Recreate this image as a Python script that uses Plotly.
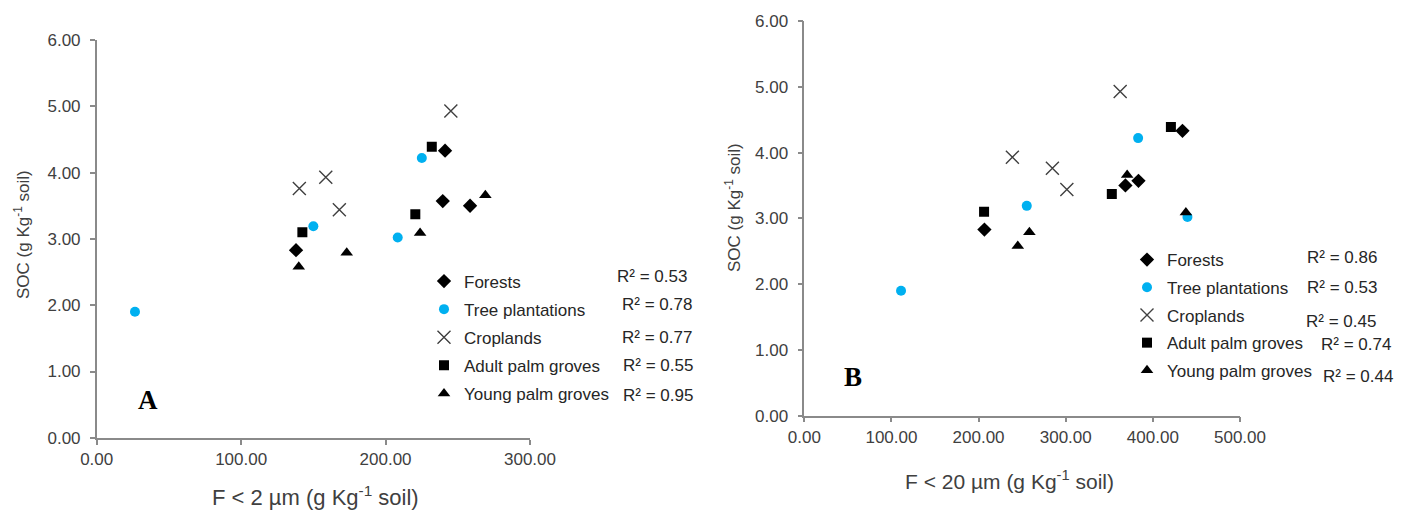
import plotly.graph_objects as go

W, H = 1409, 510
OFF = 8  # page margin of the html body
FW, FH = W - OFF, H - OFF

# ---------------- data ----------------
series_names = ["Forests", "Tree plantations", "Croplands", "Adult palm groves", "Young palm groves"]

# Panel A : F < 2 µm
a_forest_x = [241.2, 138.0, 239.6, 258.5]
a_forest_y = [4.33, 2.83, 3.57, 3.50]
a_tree_x = [26.5, 150.0, 208.4, 225.1]
a_tree_y = [1.90, 3.19, 3.02, 4.22]
a_crop_x = [245.2, 140.3, 158.6, 168.0]
a_crop_y = [4.93, 3.76, 3.93, 3.44]
a_adult_x = [232.0, 142.4, 220.6]
a_adult_y = [4.39, 3.10, 3.37]
a_young_x = [139.9, 173.1, 223.9, 269.1]
a_young_y = [2.58, 2.79, 3.09, 3.66]
a_r2 = ["0.53", "0.78", "0.77", "0.55", "0.95"]

# Panel B : F < 20 µm
b_forest_x = [206.7, 368.5, 383.5, 434.0]
b_forest_y = [2.83, 3.50, 3.57, 4.33]
b_tree_x = [111.0, 255.3, 383.1, 439.7]
b_tree_y = [1.90, 3.19, 4.22, 3.02]
b_crop_x = [238.8, 284.7, 301.3, 362.5]
b_crop_y = [3.93, 3.76, 3.44, 4.93]
b_adult_x = [206.3, 352.9, 420.7]
b_adult_y = [3.10, 3.37, 4.39]
b_young_x = [245.0, 258.3, 370.5, 437.9]
b_young_y = [2.58, 2.79, 3.66, 3.09]
b_r2 = ["0.86", "0.53", "0.45", "0.74", "0.44"]

x_ticks_a = [0, 100, 200, 300]
x_ticks_b = [0, 100, 200, 300, 400, 500]
y_ticks = [0, 1, 2, 3, 4, 5, 6]

# ---------------- styles ----------------
FONT = "Liberation Sans, Arial, sans-serif"
TXT = "#404040"
AX = "#8a8a8a"
BLUE = "#00B0F0"
styles = [
    dict(symbol="diamond", size=11, color="black"),
    dict(symbol="circle", size=10, color=BLUE),
    dict(symbol="x-thin-open", size=13, color="#404040", line=dict(width=1.4, color="#404040")),
    dict(symbol="square", size=10, color="black"),
    dict(symbol="triangle-up", size=11, color="black"),
]


def px(x):
    return (x - OFF) / FW


def py(y):
    return 1 - (y - OFF) / FH


fig = go.Figure()

a_data = [(a_forest_x, a_forest_y), (a_tree_x, a_tree_y), (a_crop_x, a_crop_y),
          (a_adult_x, a_adult_y), (a_young_x, a_young_y)]
b_data = [(b_forest_x, b_forest_y), (b_tree_x, b_tree_y), (b_crop_x, b_crop_y),
          (b_adult_x, b_adult_y), (b_young_x, b_young_y)]

for i, (name, (xs, ys)) in enumerate(zip(series_names, a_data)):
    fig.add_trace(go.Scatter(x=xs, y=ys, mode="markers", name=name, marker=styles[i],
                             xaxis="x", yaxis="y", legend="legend", legendgroup="a%d" % i))
for i, (name, (xs, ys)) in enumerate(zip(series_names, b_data)):
    fig.add_trace(go.Scatter(x=xs, y=ys, mode="markers", name=name, marker=styles[i],
                             xaxis="x2", yaxis="y2", legend="legend2", legendgroup="b%d" % i))

axis_common = dict(showline=True, linecolor=AX, linewidth=1.5, ticks="outside", ticklen=5,
                   tickcolor=AX, tickwidth=1.5, showgrid=False, zeroline=False, automargin=False,
                   tickfont=dict(family=FONT, size=17, color=TXT), tickformat=".2f")

fig.update_layout(
    width=FW, height=FH,
    margin=dict(l=0, r=0, t=0, b=0, autoexpand=False),
    paper_bgcolor="white", plot_bgcolor="white",
    xaxis=dict(domain=[px(96.7), px(530)], range=[0, 300], tickvals=x_ticks_a, anchor="y", **axis_common),
    yaxis=dict(domain=[py(437.8), py(40)], range=[0, 6], tickvals=y_ticks, anchor="x",
               ticklabelstandoff=6, **axis_common),
    xaxis2=dict(domain=[px(804.3), px(1240)], range=[0, 500], tickvals=x_ticks_b, anchor="y2", **axis_common),
    yaxis2=dict(domain=[py(415.7), py(21)], range=[0, 6], tickvals=y_ticks, anchor="x2",
                ticklabelstandoff=6, **axis_common),
    legend=dict(x=px(424), y=py(263.5), xanchor="left", yanchor="top", bgcolor="rgba(0,0,0,0)",
                font=dict(family=FONT, size=17, color="#262626"), tracegroupgap=3),
    legend2=dict(x=px(1127), y=py(242), xanchor="left", yanchor="top", bgcolor="rgba(0,0,0,0)",
                 font=dict(family=FONT, size=17, color="#262626"), tracegroupgap=2.6),
    showlegend=True,
)

ann = []
a_r2_pos = [(615, 276), (620, 304), (620, 337), (621, 365), (621, 395)]
b_r2_pos = [(1305, 257), (1305, 287), (1304, 321), (1319, 344), (1321, 376)]
for (x, y), r in zip(a_r2_pos, a_r2):
    ann.append(dict(x=px(x), y=py(y), xref="paper", yref="paper", xanchor="left", yanchor="middle",
                    text="R² = " + r, showarrow=False, font=dict(family=FONT, size=17, color="#262626")))
for (x, y), r in zip(b_r2_pos, b_r2):
    ann.append(dict(x=px(x), y=py(y), xref="paper", yref="paper", xanchor="left", yanchor="middle",
                    text="R² = " + r, showarrow=False, font=dict(family=FONT, size=17, color="#262626")))

# panel letters
lfont = dict(family="Liberation Serif, Times New Roman, serif", size=27, color="black")
ann.append(dict(x=px(148), y=py(400), xref="paper", yref="paper", text="<b>A</b>", showarrow=False,
                xanchor="center", yanchor="middle", font=lfont))
ann.append(dict(x=px(853), y=py(377), xref="paper", yref="paper", text="<b>B</b>", showarrow=False,
                xanchor="center", yanchor="middle", font=lfont))

# axis titles
ann.append(dict(x=px(315), y=py(496), xref="paper", yref="paper", showarrow=False,
                font=dict(family=FONT, size=22, color=TXT),
                xanchor="center", yanchor="middle", text="F < 2 µm (g Kg<sup>-1</sup> soil)"))
ann.append(dict(x=px(1010), y=py(480), xref="paper", yref="paper", showarrow=False,
                font=dict(family=FONT, size=21, color=TXT),
                xanchor="center", yanchor="middle", text="F < 20 µm (g Kg<sup>-1</sup> soil)"))
tfont = dict(family=FONT, size=17, color=TXT)
ann.append(dict(x=px(22), y=py(235), xref="paper", yref="paper", showarrow=False, font=tfont,
                xanchor="center", yanchor="middle", textangle=-90, text="SOC (g Kg<sup>-1</sup> soil)"))
ann.append(dict(x=px(733), y=py(208), xref="paper", yref="paper", showarrow=False, font=tfont,
                xanchor="center", yanchor="middle", textangle=-90, text="SOC (g Kg<sup>-1</sup> soil)"))

fig.update_layout(annotations=ann)

fig.write_html("out.html")
